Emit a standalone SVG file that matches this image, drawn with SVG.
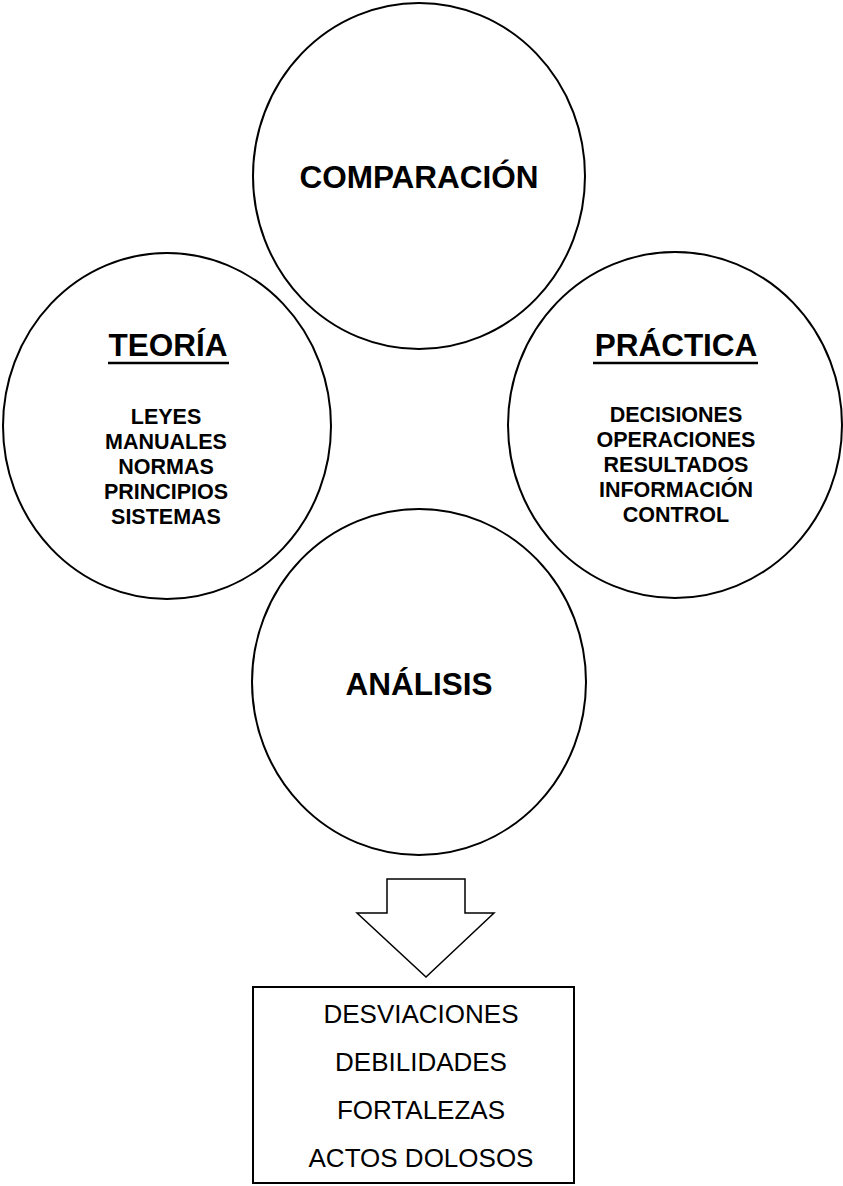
<svg xmlns="http://www.w3.org/2000/svg" width="843" height="1186" viewBox="0 0 843 1186">
  <style>
    .ring { fill: none; stroke: #000; stroke-width: 2; }
    .title { font-family: "Liberation Sans", Arial, sans-serif; font-weight: bold; font-size: 31.5px; text-anchor: middle; fill: #000; }
    .item { font-family: "Liberation Sans", Arial, sans-serif; font-weight: bold; font-size: 21.5px; text-anchor: middle; fill: #000; }
    .result { font-family: "Liberation Sans", Arial, sans-serif; font-size: 26px; text-anchor: middle; fill: #000; }
    .uline { stroke: #000; stroke-width: 2.5; }
  </style>
  <rect width="843" height="1186" fill="#fff"/>

  <g id="comparacion">
    <ellipse class="ring" cx="419" cy="176" rx="166" ry="173"/>
    <text class="title" x="419" y="188">COMPARACIÓN</text>
  </g>

  <g id="teoria">
    <ellipse class="ring" cx="167" cy="426" rx="164" ry="173"/>
    <text class="title" x="168" y="356">TEORÍA</text>
    <line class="uline" x1="108" y1="363" x2="229" y2="363"/>
    <text class="item" x="166" y="424">LEYES</text>
    <text class="item" x="166" y="449">MANUALES</text>
    <text class="item" x="166" y="474">NORMAS</text>
    <text class="item" x="166" y="499">PRINCIPIOS</text>
    <text class="item" x="166" y="524">SISTEMAS</text>
  </g>

  <g id="practica">
    <ellipse class="ring" cx="675" cy="425" rx="167" ry="173"/>
    <text class="title" x="676" y="356">PRÁCTICA</text>
    <line class="uline" x1="593" y1="363" x2="758" y2="363"/>
    <text class="item" x="676" y="422">DECISIONES</text>
    <text class="item" x="676" y="447">OPERACIONES</text>
    <text class="item" x="676" y="472">RESULTADOS</text>
    <text class="item" x="676" y="497">INFORMACIÓN</text>
    <text class="item" x="676" y="522">CONTROL</text>
  </g>

  <g id="analisis">
    <ellipse class="ring" cx="419" cy="682" rx="167" ry="173"/>
    <text class="title" x="419" y="695">ANÁLISIS</text>
  </g>

  <g id="connectors">
    <polygon points="387,879 465,879 465,913 494,913 426,977 357,913 387,913" fill="#fff" stroke="#000" stroke-width="1.5" stroke-linejoin="miter"/>
  </g>

  <g id="resultados">
    <rect x="253" y="987" width="321" height="196" fill="none" stroke="#000" stroke-width="2"/>
    <text class="result" x="421" y="1023">DESVIACIONES</text>
    <text class="result" x="421" y="1071">DEBILIDADES</text>
    <text class="result" x="421" y="1119">FORTALEZAS</text>
    <text class="result" x="421" y="1167">ACTOS DOLOSOS</text>
  </g>
</svg>
